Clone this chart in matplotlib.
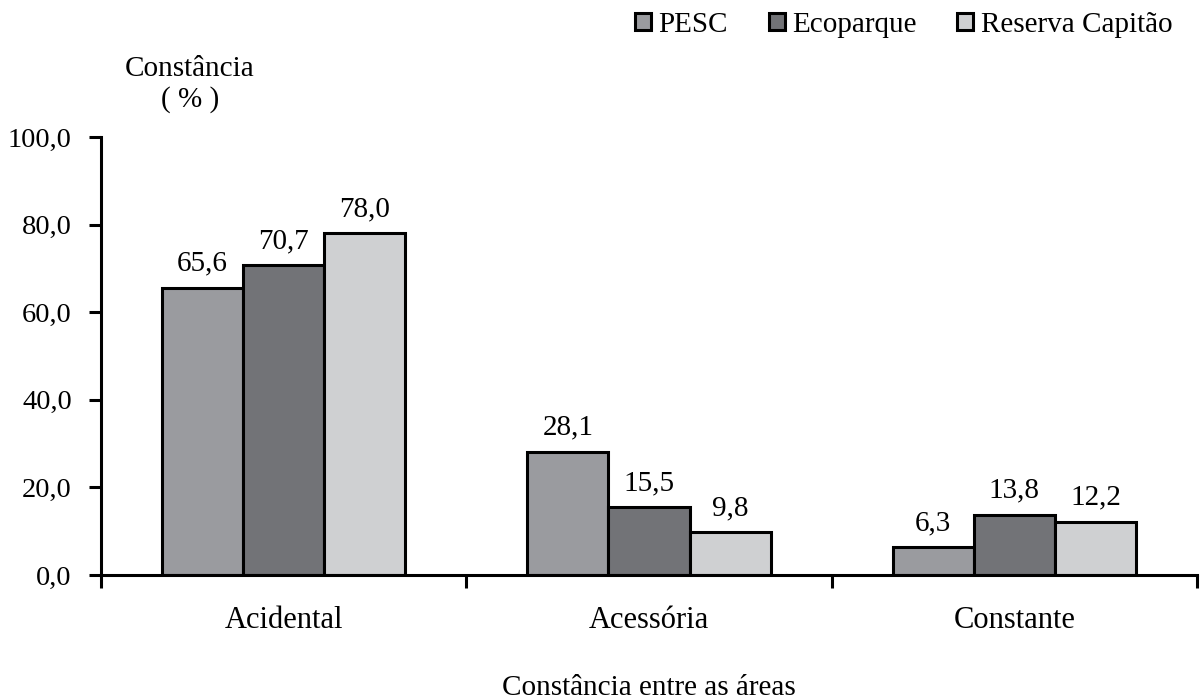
import numpy as np
import matplotlib
matplotlib.use("Agg")
import matplotlib.pyplot as plt
from matplotlib.ticker import FuncFormatter

plt.rcParams['font.family'] = ['Liberation Serif', 'DejaVu Serif']

# dados
categorias = ["Acidental", "Acessória", "Constante"]
series = ["PESC", "Ecoparque", "Reserva Capitão"]
pesc = [65.6, 28.1, 6.3]
ecoparque = [70.7, 15.5, 13.8]
reserva = [78.0, 9.8, 12.2]
cores = ["#9a9b9f", "#727377", "#cfd0d2"]

valores = [pesc, ecoparque, reserva]

fig = plt.figure(figsize=(12.01, 6.99), dpi=100)
ax = fig.add_axes([0.0841, 0.1774, 0.9126, 0.6266])

x = np.arange(len(categorias))
largura = 0.222
for i, (nome, vals, cor) in enumerate(zip(series, valores, cores)):
    barras = ax.bar(x + (i - 1) * largura, vals, largura, color=cor,
                    edgecolor="black", linewidth=2.2, label=nome)
    rotulos = [f"{v:.1f}".replace(".", ",") for v in vals]
    ax.bar_label(barras, labels=rotulos, padding=8, fontsize=21)

ax.set_xlim(-0.5, 2.5)
ax.set_ylim(0, 100)
ax.set_yticks(np.arange(0, 101, 20))
ax.yaxis.set_major_formatter(FuncFormatter(lambda v, p: f"{v:.1f}".replace(".", ",")))
ax.set_xticks(x)
ax.set_xticklabels(categorias, fontsize=22)
ax.set_xticks([-0.5, 0.5, 1.5, 2.5], minor=True)

ax.tick_params(axis="y", direction="out", length=9, width=2.2, pad=12, labelsize=20.5)
ax.tick_params(axis="x", which="major", length=0, pad=22)
ax.tick_params(axis="x", which="minor", direction="out", length=9, width=2.2)

for lado in ["top", "right"]:
    ax.spines[lado].set_visible(False)
for lado in ["left", "bottom"]:
    ax.spines[lado].set_linewidth(2.2)

# rótulos dos eixos
fig.text(0.158, 0.902, "Constância", ha="center", va="center", fontsize=21)
fig.text(0.158, 0.857, "( % )", ha="center", va="center", fontsize=21)
fig.text(0.54, 0.016, "Constância entre as áreas", ha="center", va="center", fontsize=21)

fig.legend(loc="upper right", bbox_to_anchor=(0.993, 1.012), ncol=3, frameon=False,
           fontsize=21, handlelength=0.55, handleheight=0.55, handletextpad=0.25,
           columnspacing=1.4, borderaxespad=0.3)

fig.savefig("out.png", dpi=100)
